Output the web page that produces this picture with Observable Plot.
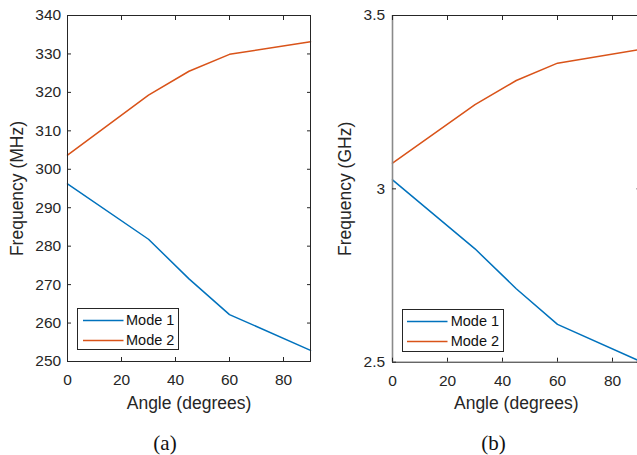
<!DOCTYPE html>
<html><head><meta charset="utf-8">
<script src="https://cdn.jsdelivr.net/npm/d3@7"></script>
<script src="https://cdn.jsdelivr.net/npm/@observablehq/plot@0.6"></script>
<style>
body{margin:0;background:#fff;overflow:hidden}
#wrap{position:relative;width:637px;height:455px;overflow:hidden;background:#fff;font-family:"Liberation Sans",Arial,sans-serif;color:#262626}
.panel{position:absolute;top:0}
.panel svg{max-width:none !important;display:block}
.panel svg g[aria-label="x-axis label"], .panel svg g[aria-label="y-axis label"]{font-size:17.5px}
.legend{position:absolute;box-sizing:border-box;border:1px solid #262626;background:#fff;font-size:14.5px;color:#111}
.legend .row{position:absolute;left:0;height:18px;display:flex;align-items:center;white-space:nowrap}
.legend svg{display:block}
.caption{position:absolute;font-family:"Liberation Serif","DejaVu Serif",serif;font-size:21px;color:#111;transform:translate(-50%,-50%)}
</style></head>
<body>
<div id="wrap"></div>
<script>
// ---- data ----
const angles = [0, 30, 45, 60, 90];
const seriesNames = ["Mode 1", "Mode 2"];
const seriesColors = ["#0072BD", "#D95319"];
const mode1MHz = [296.2, 281.8, 271.5, 262.2, 252.9];
const mode2MHz = [303.7, 319.3, 325.5, 329.9, 333.2];
const mode1GHz = [3.026, 2.827, 2.712, 2.609, 2.503];
const mode2GHz = [3.074, 3.243, 3.3125, 3.3625, 3.402];
const xTicks = [0, 20, 40, 60, 80];
const yTicksA = [250, 260, 270, 280, 290, 300, 310, 320, 330, 340];
const yTicksB = [2.5, 3, 3.5];
const captions = ["(a)", "(b)"];

function rows(m1, m2) {
  return angles.flatMap((a, i) => [
    {angle: a, f: m1[i], series: seriesNames[0]},
    {angle: a, f: m2[i], series: seriesNames[1]}
  ]);
}

function panel(o) {
  const marks = [
    Plot.line(o.data, {x: "angle", y: "f", stroke: "series", z: "series", strokeWidth: 1.5}),
    Plot.frame({stroke: "#262626", strokeWidth: 1}),
  ];
  if (o.grayLeft) marks.push(Plot.ruleX([0], {stroke: "#8a8a8a", strokeWidth: 1.6}));
  marks.push(
    Plot.axisX({ticks: xTicks, tickSize: -4, tickPadding: 16.5, label: "Angle (degrees)", labelAnchor: "center", labelArrow: "none", labelOffset: 47}),
    Plot.axisX({anchor: "top", ticks: xTicks, tickSize: -4, tickFormat: () => "", label: null}),
    Plot.axisY({ticks: o.yTicks, tickSize: -4, tickPadding: o.tickPad, tickFormat: o.yFormat, label: o.yLabel, labelAnchor: "center", labelArrow: "none", labelOffset: o.labelOffset}),
    Plot.axisY({anchor: "right", ticks: o.yTicks, tickSize: -4, tickFormat: () => "", label: null})
  );
  return Plot.plot({
    width: o.width, height: 420,
    marginLeft: o.ml, marginRight: o.mr, marginTop: 15, marginBottom: o.mb,
    style: {fontFamily: "Liberation Sans, Arial, sans-serif", fontSize: "15.5px", color: "#262626", background: "transparent", overflow: "visible", maxWidth: "none"},
    x: {domain: [0, 90]},
    y: {domain: o.yDomain},
    color: {domain: seriesNames, range: seriesColors},
    marks
  });
}

const wrap = document.getElementById("wrap");

function addPanel(left, w, svg) {
  const d = document.createElement("div");
  d.className = "panel";
  d.style.left = left + "px";
  d.style.width = w + "px";
  d.appendChild(svg);
  wrap.appendChild(d);
}

addPanel(0, 330, panel({
  data: rows(mode1MHz, mode2MHz), yDomain: [250, 340], yTicks: yTicksA, yFormat: d3.format("d"),
  yLabel: "Frequency (MHz)", width: 330, ml: 67, mr: 20, mb: 59, tickPad: 10.3, labelOffset: 57
}));
addPanel(320, 340, panel({
  data: rows(mode1GHz, mode2GHz), yDomain: [2.5, 3.5], yTicks: yTicksB, yFormat: d => String(d),
  yLabel: "Frequency (GHz)", width: 340, ml: 72, mr: 20.5, mb: 58.3, tickPad: 11.4, labelOffset: 54, grayLeft: true
}));

function addLegend(left, top, w, h, lineX1, lineX2) {
  const lg = document.createElement("div");
  lg.className = "legend";
  Object.assign(lg.style, {left: left + "px", top: top + "px", width: w + "px", height: h + "px"});
  seriesNames.forEach((name, i) => {
    const r = document.createElement("div");
    r.className = "row";
    r.style.top = (2 + i * 19.5) + "px";
    r.style.left = (lineX1) + "px";
    const s = d3.create("svg").attr("width", lineX2 - lineX1 + 3).attr("height", 18);
    s.append("line").attr("x1", 0).attr("x2", lineX2 - lineX1).attr("y1", 9.5).attr("y2", 9.5)
      .attr("stroke", seriesColors[i]).attr("stroke-width", 1.5);
    r.appendChild(s.node());
    const t = document.createElement("span");
    t.textContent = name;
    r.appendChild(t);
    lg.appendChild(r);
  });
  wrap.appendChild(lg);
}
addLegend(77, 308, 102, 42, 4.5, 45);
addLegend(401.7, 309, 102.3, 43, 4.5, 45);

[[165, 443], [493.5, 443]].forEach(([x, y], i) => {
  const c = document.createElement("div");
  c.className = "caption";
  c.style.left = x + "px";
  c.style.top = y + "px";
  c.textContent = captions[i];
  wrap.appendChild(c);
});
</script>
</body></html>
